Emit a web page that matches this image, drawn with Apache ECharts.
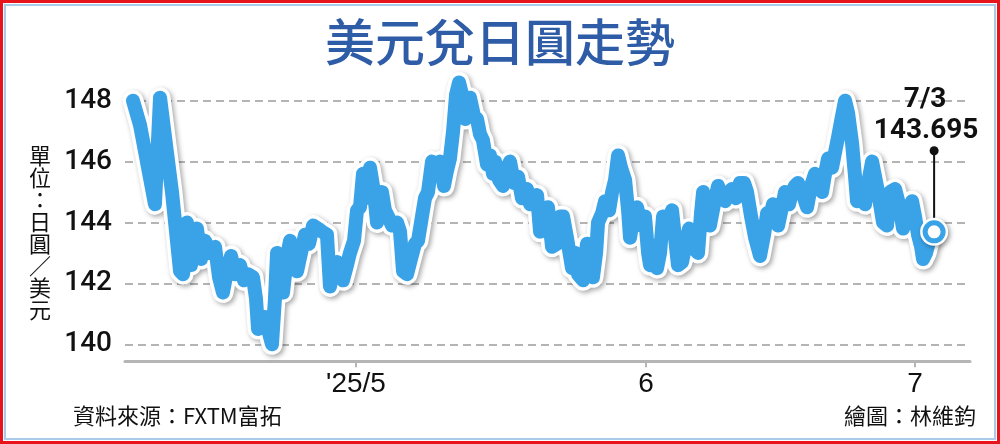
<!DOCTYPE html>
<html>
<head>
<meta charset="utf-8">
<script src="https://cdn.jsdelivr.net/npm/echarts@6/dist/echarts.min.js"></script>
<style>
html,body{margin:0;padding:0;background:#fff;}
#c{width:1000px;height:444px;}
</style>
</head>
<body>
<div id="c"></div>
<script>
// Trading-day position (0 = 4/8) and USD/JPY rate
var tradingDay = [0.00,0.54,1.69,2.08,3.00,3.62,3.85,4.15,4.46,4.92,5.23,5.54,5.92,6.31,6.62,6.92,7.23,7.54,7.85,8.23,8.54,8.85,9.23,9.46,9.62,9.92,10.15,10.38,10.69,10.92,11.08,11.31,11.54,11.85,12.08,12.38,12.62,12.92,13.23,13.54,13.85,14.23,14.54,14.92,15.15,15.46,15.69,15.92,16.15,16.46,16.69,17.00,17.23,17.46,17.69,17.92,18.23,18.54,18.77,19.15,19.38,19.62,19.92,20.31,20.54,20.77,21.08,21.38,21.69,21.92,22.23,22.46,22.69,23.00,23.31,23.62,23.92,24.15,24.38,24.62,24.85,25.08,25.31,25.54,25.77,25.92,26.23,26.46,26.69,26.92,27.23,27.46,27.69,27.85,28.15,28.46,28.77,29.00,29.31,29.62,29.92,30.31,30.54,30.77,31.08,31.31,31.62,31.92,32.23,32.62,32.85,33.08,33.38,33.77,34.00,34.23,34.62,34.92,35.15,35.38,35.62,35.77,36.08,36.31,36.62,36.85,37.08,37.31,37.54,37.85,38.08,38.23,38.54,38.77,39.08,39.38,39.62,39.77,40.08,40.31,40.54,40.77,41.08,41.46,41.69,41.92,42.23,42.46,42.77,43.00,43.23,43.46,43.69,43.85,44.15,44.38,44.69,45.00,45.31,45.54,45.85,46.08,46.38,46.69,47.00,47.23,47.54,47.85,48.23,48.54,48.77,49.00,49.23,49.62,49.92,50.15,50.46,50.69,50.92,51.15,51.54,51.85,52.15,52.46,52.69,53.00,53.23,53.46,53.77,54.00,54.23,54.54,54.77,55.00,55.31,55.54,55.69,56.00,56.31,56.54,56.85,57.08,57.31,57.69,58.00,58.23,58.62,58.92,59.23,59.54,59.92,60.15,60.38,60.62,60.77,61.00,61.31,61.62];
var usdJpy = [148.0,147.2,144.6,148.1,145.0,142.4,142.3,144.0,142.6,143.8,142.8,143.4,143.0,143.2,142.2,141.7,142.4,142.9,142.3,142.6,142.1,142.3,142.2,141.5,140.5,140.8,140.9,140.5,140.0,141.5,143.0,142.8,141.7,142.9,143.4,142.6,142.4,143.0,143.6,143.3,143.9,143.8,143.7,143.6,141.9,142.5,142.7,142.6,142.1,142.6,143.0,143.4,144.4,144.5,145.6,144.8,145.8,145.0,144.0,145.0,144.4,144.2,143.9,144.0,143.7,142.4,142.3,142.8,143.3,143.4,144.2,144.8,145.0,146.0,145.6,146.0,145.2,145.7,146.1,147.0,148.2,148.6,148.2,147.4,147.8,148.1,147.5,147.4,146.9,146.7,145.9,146.2,145.6,146.0,145.4,145.2,145.8,146.0,145.3,145.5,144.8,145.1,144.6,144.8,144.9,143.7,144.4,144.5,143.2,143.3,144.2,144.2,143.5,142.5,143.0,142.3,142.1,143.3,142.8,142.2,143.0,144.0,144.3,144.7,144.4,145.0,145.4,146.2,145.8,145.4,144.4,143.5,144.3,144.5,143.9,144.2,143.0,142.6,143.2,142.5,143.0,144.2,143.9,144.4,143.5,142.6,142.7,143.2,143.8,143.7,143.1,143.0,144.3,145.0,144.5,143.9,144.6,145.2,144.8,144.7,145.0,145.1,144.8,145.3,145.3,145.0,144.2,143.5,142.9,143.6,144.3,144.2,144.6,143.9,144.5,145.0,144.6,145.0,145.2,145.3,144.9,144.5,145.2,145.6,145.5,145.0,145.6,146.1,145.8,146.3,146.8,147.5,148.0,147.6,146.6,145.5,144.7,145.0,144.6,145.3,146.0,145.5,145.0,144.0,143.9,145.0,145.1,144.6,143.8,144.2,144.7,144.2,143.6,143.2,142.8,143.0,143.5,143.695];
var monthTickDays = [17.15, 39.46, 60.15];
var monthLabels = ["'25/5", "6", "7"];
var lastDate = "7/3";

var pts = tradingDay.map(function (d, i) { return [d, usdJpy[i]]; });
var lastPt = [pts[pts.length - 1]];
var blue = '#3aa2e6';

var chart = echarts.init(document.getElementById('c'), null, {renderer: 'canvas'});
chart.setOption({
  backgroundColor: '#fff',
  animation: false,
  title: [
    {text: '美元兌日圓走勢', left: 'center', top: 12,
     textStyle: {fontSize: 50, fontWeight: 500, color: '#2f5ca6', fontFamily: 'Noto Sans CJK TC'}},
    {text: '資料來源：FXTM富拓', left: 68, top: 400,
     textStyle: {fontSize: 22, fontWeight: 'normal', color: '#111', fontFamily: 'Noto Sans CJK TC'}},
    {text: '繪圖：林維鈞', right: 19, top: 400,
     textStyle: {fontSize: 22, fontWeight: 'normal', color: '#111', fontFamily: 'Noto Sans CJK TC'}},
    {text: '單\n位\n：\n日\n圓\n／\n美\n元', left: 24, top: 140,
     textStyle: {fontSize: 22, fontWeight: 'normal', lineHeight: 22, color: '#111', fontFamily: 'Noto Sans CJK TC'}}
  ],
  graphic: [
    {type: 'rect', shape: {x: 1.5, y: 1.5, width: 997, height: 441}, style: {fill: 'none', stroke: '#e8141b', lineWidth: 3}, silent: true, z: 100},
    {type: 'rect', shape: {x: 5, y: 5, width: 990, height: 434}, style: {fill: 'none', stroke: '#a9cbe9', lineWidth: 2}, silent: true, z: 100}
  ],
  grid: {left: 125, right: 30, top: 100.7, bottom: 99.7, containLabel: false},
  xAxis: {
    type: 'value', min: -0.615, max: 64.38, offset: 17,
    axisLine: {show: true, lineStyle: {color: '#b5b5b5', width: 3}},
    axisTick: {show: true, customValues: monthTickDays, length: 6, lineStyle: {color: '#b5b5b5', width: 2}},
    axisLabel: {
      customValues: monthTickDays, margin: 9, fontSize: 28, color: '#111',
      fontFamily: 'Liberation Sans Narrow, Liberation Sans, sans-serif',
      formatter: function (v) {
        var best = 0;
        for (var i = 1; i < monthTickDays.length; i++) {
          if (Math.abs(monthTickDays[i] - v) < Math.abs(monthTickDays[best] - v)) best = i;
        }
        return monthLabels[best];
      }
    },
    splitLine: {show: false}
  },
  yAxis: {
    type: 'value', min: 140, max: 148, interval: 2,
    axisLine: {show: false}, axisTick: {show: false},
    axisLabel: {fontSize: 28, color: '#111', margin: 13, fontFamily: 'Roboto', fontWeight: 500},
    splitLine: {show: true, lineStyle: {color: '#b4b4b4', width: 2, type: [8, 5]}}
  },
  series: [
    {type: 'line', data: pts, symbol: 'none', clip: false, silent: true, z: 2,
     lineStyle: {color: '#ffffff', width: 21, cap: 'round', join: 'round',
       shadowColor: 'rgba(0,0,0,0.35)', shadowBlur: 5, shadowOffsetX: 2, shadowOffsetY: 2}},
    {type: 'line', data: pts, symbol: 'none', clip: false, silent: true, z: 3,
     lineStyle: {color: blue, width: 14, cap: 'round', join: 'round'}},
    {type: 'custom', data: lastPt, clip: false, silent: true, z: 5,
     renderItem: function (params, api) {
       var p = api.coord([api.value(0), api.value(1)]);
       var x = p[0], y = p[1];
       return {type: 'group', children: [
         {type: 'circle', shape: {cx: x, cy: y, r: 14}, style: {fill: '#fff', shadowColor: 'rgba(0,0,0,0.35)', shadowBlur: 5, shadowOffsetX: 2, shadowOffsetY: 2}},
         {type: 'circle', shape: {cx: x, cy: y, r: 9}, style: {fill: '#fff', stroke: blue, lineWidth: 5}},
         {type: 'line', shape: {x1: x, y1: y - 14, x2: x, y2: y - 81}, style: {stroke: '#111', lineWidth: 2}},
         {type: 'circle', shape: {cx: x, cy: y - 81, r: 4.5}, style: {fill: '#111'}},
         {type: 'text', x: x - 8, y: y - 101, style: {text: api.value(1).toFixed(3), fill: '#111', font: 'bold 28px Roboto', align: 'center', verticalAlign: 'middle'}},
         {type: 'text', x: x - 9, y: y - 132, style: {text: lastDate, fill: '#111', font: 'bold 28px Roboto', align: 'center', verticalAlign: 'middle'}}
       ]};
     }}
  ]
});
</script>
</body>
</html>
